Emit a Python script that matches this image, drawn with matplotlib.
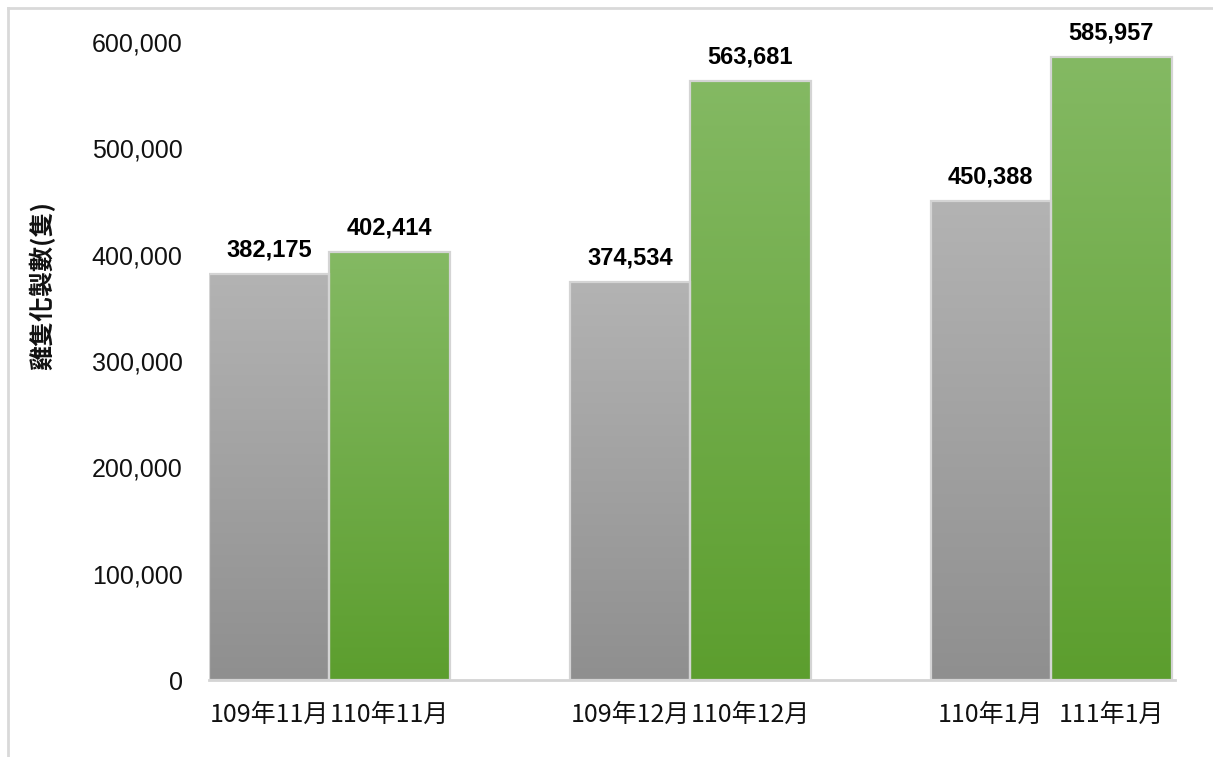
import numpy as np
import matplotlib.pyplot as plt
from matplotlib.colors import LinearSegmentedColormap
from matplotlib.lines import Line2D

# [Data]____________________________________________________________________
prev_labels = ["109年11月", "109年12月", "110年1月"]
curr_labels = ["110年11月", "110年12月", "111年1月"]
prev_values = [382175, 374534, 450388]
curr_values = [402414, 563681, 585957]
y_ticks = [0, 100000, 200000, 300000, 400000, 500000, 600000]
y_label = "雞隻化製數(隻)"

# [Style]___________________________________________________________________
plt.rcParams['font.family'] = ['Liberation Sans', 'Noto Sans CJK TC', 'DejaVu Sans']
cjk = ['Noto Sans CJK TC', 'DejaVu Sans']

gray_cmap = LinearSegmentedColormap.from_list("g", ["#8f8f8f", "#b3b3b3"])
green_cmap = LinearSegmentedColormap.from_list("gr", ["#5c9e2e", "#84b963"])
edge = "#d4d4d4"

fig = plt.figure(figsize=(12.13, 7.57), dpi=100)
ax = fig.add_axes([209 / 1213, 1 - 680 / 757, 966 / 1213, 638 / 757])

w = 0.3338
x = np.arange(len(prev_values))
grad = np.linspace(0, 1, 256).reshape(-1, 1)


def draw_bars(xs, vals, cmap):
  bars = ax.bar(xs, vals, width=w, align="edge", facecolor="none",
                edgecolor=edge, linewidth=1.6, zorder=3)
  for b, v in zip(bars, vals):
    x0 = b.get_x()
    ax.imshow(grad, cmap=cmap, origin="lower", aspect="auto",
              extent=[x0, x0 + w, 0, v], zorder=2, interpolation="bicubic")
    ax.annotate(f"{v:,}", (x0 + w / 2, v), xytext=(0, 9), textcoords="offset points",
                ha="center", va="bottom", fontsize=17, fontweight="bold", color="black")
  return bars


draw_bars(x - w, prev_values, gray_cmap)
draw_bars(x, curr_values, green_cmap)

ax.set_xlim(-w, 2.3435)
ax.set_ylim(0, 600000)

ax.set_yticks(y_ticks)
ax.set_yticklabels([f"{t:,}" for t in y_ticks], fontsize=18, color="#111111")
ax.tick_params(axis="y", length=0, pad=19)

centers = np.concatenate([x - w / 2, x + w / 2])
ax.set_xticks(centers)
ax.set_xticklabels(prev_labels + curr_labels, fontsize=18, family=cjk, color="#111111")
ax.tick_params(axis="x", length=0, pad=16)

for s in ["top", "right", "left"]:
  ax.spines[s].set_visible(False)
ax.spines["bottom"].set_color(edge)
ax.spines["bottom"].set_linewidth(2)
ax.spines["bottom"].set_zorder(4)

ax.set_ylabel(y_label, fontsize=18, fontweight="bold", family=cjk, color="#111111")
ax.yaxis.set_label_coords(-0.1594, 0.6176)

# outer frame (top and left only)
fig.add_artist(Line2D([8 / 1213, 8 / 1213], [0, 1 - 8 / 757], color="#d9d9d9", lw=2))
fig.add_artist(Line2D([8 / 1213, 1], [1 - 8 / 757, 1 - 8 / 757], color="#d9d9d9", lw=2))

fig.savefig("out.png", dpi=100)
